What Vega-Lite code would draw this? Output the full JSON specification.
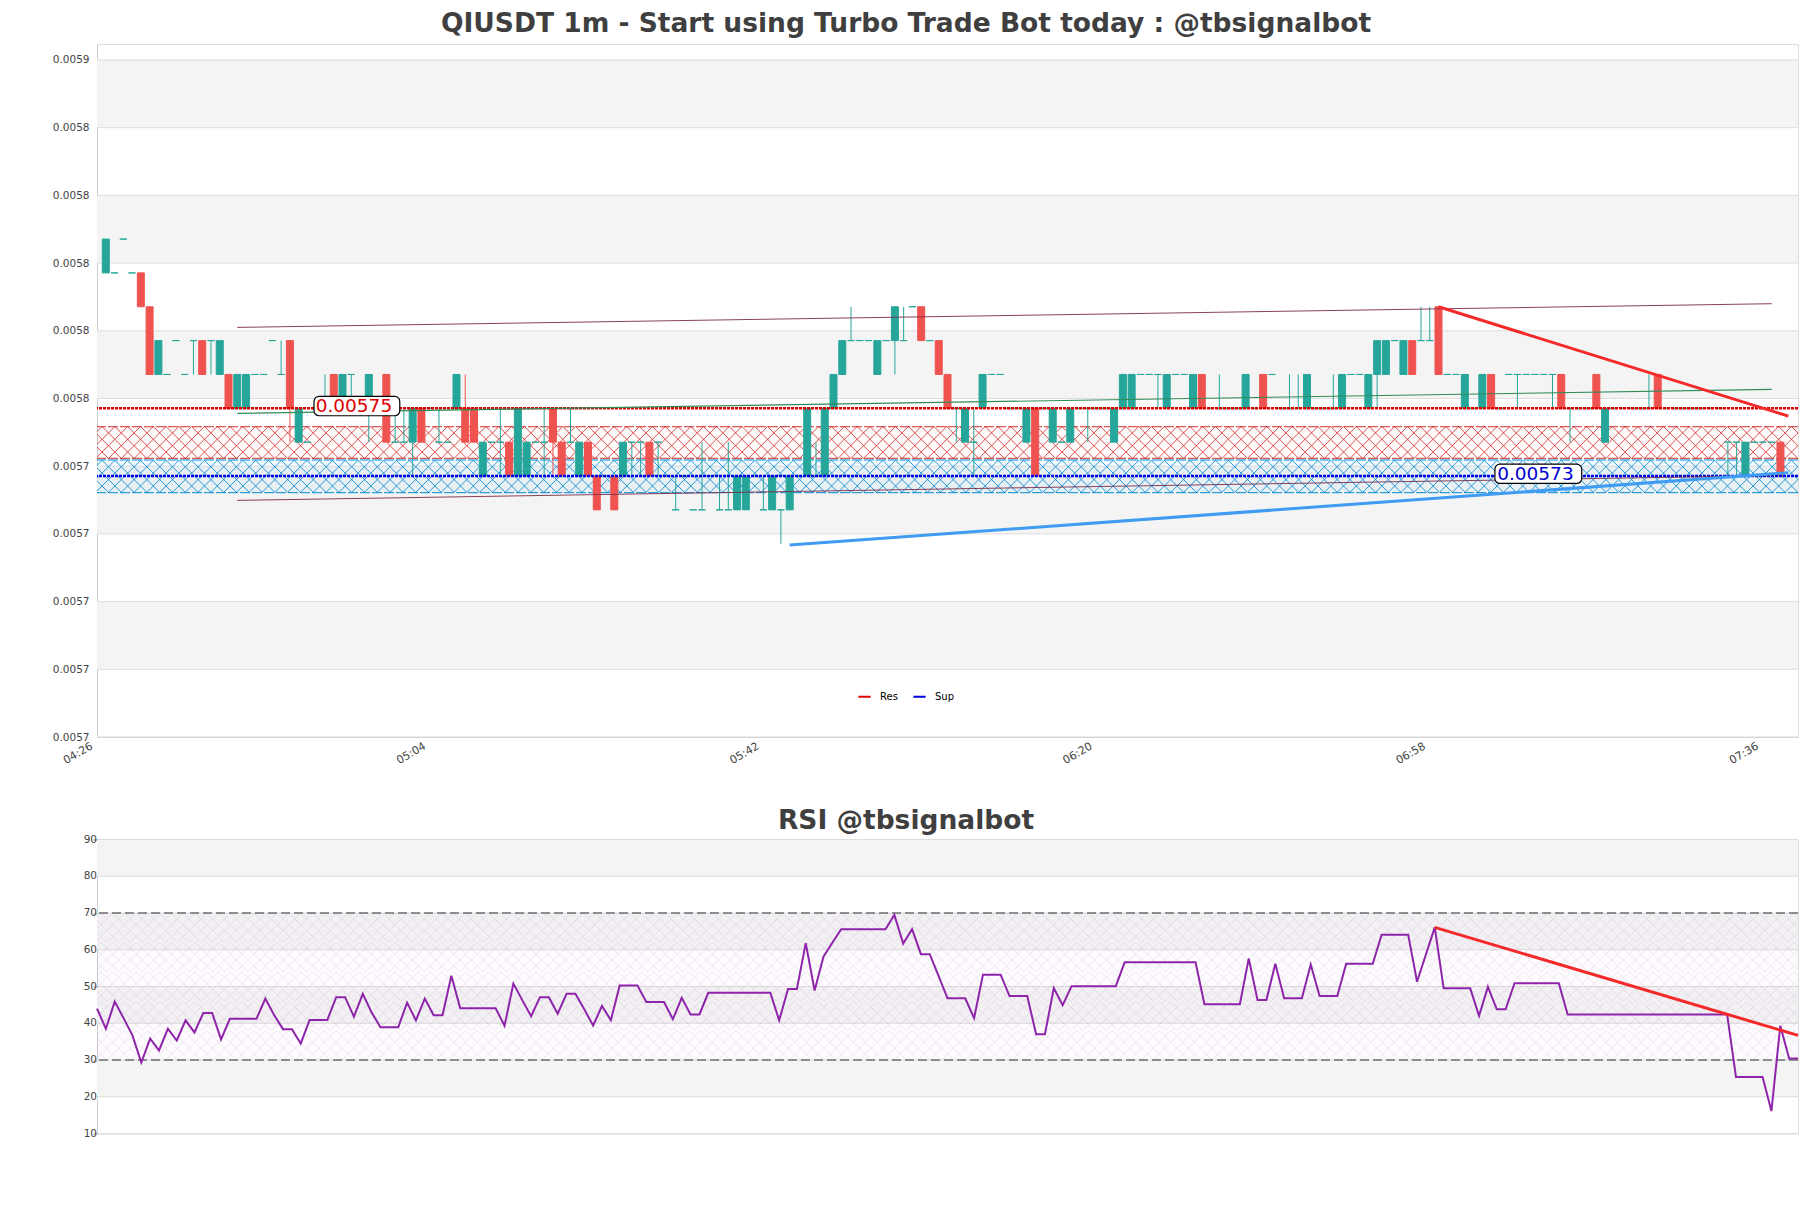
{"$schema":"https://vega.github.io/schema/vega-lite/v6.json","background":"white","padding":{"left":0,"top":10,"right":0,"bottom":0},"spacing":41.5,"config":{"view":{"stroke":"#dddddd"},"font":"DejaVu Sans","title":{"font":"DejaVu Sans","fontSize":26.5,"fontWeight":"bold","color":"#3f3f3f","anchor":"middle","dx":-41.5,"offset":7},"axis":{"labelFont":"DejaVu Sans","labelFontSize":10.5,"labelColor":"#444444","domainColor":"#cccccc","grid":false,"title":null}},
"vconcat":[
{"title":"QIUSDT 1m - Start using Turbo Trade Bot today : @tbsignalbot","width":1701,"height":693,
"layer":[
{"data":{"values":[{"lo":0.0058329,"hi":0.0058529},{"lo":0.0057929,"hi":0.0058129},{"lo":0.0057529,"hi":0.0057729},{"lo":0.0057129,"hi":0.0057329},{"lo":0.0056729,"hi":0.0056929}]},"mark":{"type":"rect","color":"#f4f4f4"},"encoding":{"y":{"field":"lo","type":"quantitative","title":null,"scale":{"domain":[0.0056529,0.00585762],"nice":false,"zero":false},"axis":{"title":null,"values":[0.0056529,0.0056729,0.0056929,0.0057129,0.0057329,0.0057529,0.0057729,0.0057929,0.0058129,0.0058329,0.0058529],"format":".4f","ticks":false,"labelPadding":8,"labelOverlap":false,"minExtent":96,"maxExtent":96}},"y2":{"field":"hi"}}},
{"data":{"values":[{"p":0.0056529},{"p":0.0056729},{"p":0.0056929},{"p":0.0057129},{"p":0.0057329},{"p":0.0057529},{"p":0.0057729},{"p":0.0057929},{"p":0.0058129},{"p":0.0058329},{"p":0.0058529}]},"mark":{"type":"rule","color":"#dddddd","strokeWidth":1},"encoding":{"y":{"field":"p","type":"quantitative","title":null}}},
{"data":{"values":[{"zone":"Res","t":"1900-01-01T06:02:55","lo":0.00573523,"hi":0.00574456,"mid":0.0057399},{"zone":"Sup","t":"1900-01-01T06:02:55","lo":0.00572507,"hi":0.00573473,"mid":0.0057299}]},
"layer":[
{"mark":{"type":"rect","opacity":0.05},"encoding":{"y":{"field":"lo","type":"quantitative","title":null},"y2":{"field":"hi"},"color":{"condition":{"test":"datum.zone=='Res'","value":"#ffb0b0"},"value":"#29b6f6"}}},
{"mark":{"type":"point","clip":true,"filled":false,"size":4.55,"strokeWidth":0.85,"opacity":1,"shape":"M-960-15l30 30l30-30l30 30l30-30l30 30l30-30l30 30l30-30l30 30l30-30l30 30l30-30l30 30l30-30l30 30l30-30l30 30l30-30l30 30l30-30l30 30l30-30l30 30l30-30l30 30l30-30l30 30l30-30l30 30l30-30l30 30l30-30l30 30l30-30l30 30l30-30l30 30l30-30l30 30l30-30l30 30l30-30l30 30l30-30l30 30l30-30l30 30l30-30l30 30l30-30l30 30l30-30l30 30l30-30l30 30l30-30l30 30l30-30l30 30l30-30l30 30l30-30M-948-15l30 30l30-30l30 30l30-30l30 30l30-30l30 30l30-30l30 30l30-30l30 30l30-30l30 30l30-30l30 30l30-30l30 30l30-30l30 30l30-30l30 30l30-30l30 30l30-30l30 30l30-30l30 30l30-30l30 30l30-30l30 30l30-30l30 30l30-30l30 30l30-30l30 30l30-30l30 30l30-30l30 30l30-30l30 30l30-30l30 30l30-30l30 30l30-30l30 30l30-30l30 30l30-30l30 30l30-30l30 30l30-30l30 30l30-30l30 30l30-30l30 30l30-30l30 30l30-30M-936-15l30 30l30-30l30 30l30-30l30 30l30-30l30 30l30-30l30 30l30-30l30 30l30-30l30 30l30-30l30 30l30-30l30 30l30-30l30 30l30-30l30 30l30-30l30 30l30-30l30 30l30-30l30 30l30-30l30 30l30-30l30 30l30-30l30 30l30-30l30 30l30-30l30 30l30-30l30 30l30-30l30 30l30-30l30 30l30-30l30 30l30-30l30 30l30-30l30 30l30-30l30 30l30-30l30 30l30-30l30 30l30-30l30 30l30-30l30 30l30-30l30 30l30-30l30 30l30-30M-924-15l30 30l30-30l30 30l30-30l30 30l30-30l30 30l30-30l30 30l30-30l30 30l30-30l30 30l30-30l30 30l30-30l30 30l30-30l30 30l30-30l30 30l30-30l30 30l30-30l30 30l30-30l30 30l30-30l30 30l30-30l30 30l30-30l30 30l30-30l30 30l30-30l30 30l30-30l30 30l30-30l30 30l30-30l30 30l30-30l30 30l30-30l30 30l30-30l30 30l30-30l30 30l30-30l30 30l30-30l30 30l30-30l30 30l30-30l30 30l30-30l30 30l30-30l30 30l30-30M-912-15l30 30l30-30l30 30l30-30l30 30l30-30l30 30l30-30l30 30l30-30l30 30l30-30l30 30l30-30l30 30l30-30l30 30l30-30l30 30l30-30l30 30l30-30l30 30l30-30l30 30l30-30l30 30l30-30l30 30l30-30l30 30l30-30l30 30l30-30l30 30l30-30l30 30l30-30l30 30l30-30l30 30l30-30l30 30l30-30l30 30l30-30l30 30l30-30l30 30l30-30l30 30l30-30l30 30l30-30l30 30l30-30l30 30l30-30l30 30l30-30l30 30l30-30"},"encoding":{"x":{"field":"t","type":"temporal","title":null,"scale":{"domain":["1900-01-01T04:26:00","1900-01-01T07:40:00"],"nice":false,"padding":0},"axis":{"title":null,"values":["1900-01-01T04:26:00","1900-01-01T05:04:00","1900-01-01T05:42:00","1900-01-01T06:20:00","1900-01-01T06:58:00","1900-01-01T07:36:00"],"format":"%H:%M","labelAngle":-30,"labelAlign":"right","labelBaseline":"top","ticks":false,"labelPadding":3,"labelOffset":-8.5,"labelFontSize":11,"labelBound":false,"labelFlush":false}},"y":{"field":"mid","type":"quantitative","title":null},"stroke":{"condition":{"test":"datum.zone=='Res'","value":"#d32f2f"},"value":"#0288d1"}}},
{"mark":{"type":"rule","strokeWidth":1,"strokeDash":[10,2]},"encoding":{"y":{"field":"hi","type":"quantitative","title":null},"stroke":{"condition":{"test":"datum.zone=='Res'","value":"#d32f2f"},"value":"#0288d1"}}},
{"mark":{"type":"rule","strokeWidth":1,"strokeDash":[10,2]},"encoding":{"y":{"field":"lo","type":"quantitative","title":null},"stroke":{"condition":{"test":"datum.zone=='Res'","value":"#d32f2f"},"value":"#0288d1"}}}
]},
{"data":{"values":[{"t":"04:27","o":0.00579,"c":0.0058,"h":0.0058,"l":0.00579},{"t":"04:28","o":0.00579,"c":0.00579,"h":0.00579,"l":0.00579},{"t":"04:29","o":0.0058,"c":0.0058,"h":0.0058,"l":0.0058},{"t":"04:30","o":0.00579,"c":0.00579,"h":0.00579,"l":0.00579},{"t":"04:31","o":0.00579,"c":0.00578,"h":0.00579,"l":0.00578},{"t":"04:32","o":0.00578,"c":0.00576,"h":0.00578,"l":0.00576},{"t":"04:33","o":0.00576,"c":0.00577,"h":0.00577,"l":0.00576},{"t":"04:34","o":0.00576,"c":0.00576,"h":0.00576,"l":0.00576},{"t":"04:35","o":0.00577,"c":0.00577,"h":0.00577,"l":0.00577},{"t":"04:36","o":0.00576,"c":0.00576,"h":0.00576,"l":0.00576},{"t":"04:37","o":0.00577,"c":0.00577,"h":0.00577,"l":0.00576},{"t":"04:38","o":0.00577,"c":0.00576,"h":0.00577,"l":0.00576},{"t":"04:39","o":0.00577,"c":0.00577,"h":0.00577,"l":0.00576},{"t":"04:40","o":0.00576,"c":0.00577,"h":0.00577,"l":0.00576},{"t":"04:41","o":0.00576,"c":0.00575,"h":0.00576,"l":0.00575},{"t":"04:42","o":0.00575,"c":0.00576,"h":0.00576,"l":0.00575},{"t":"04:43","o":0.00575,"c":0.00576,"h":0.00576,"l":0.00575},{"t":"04:44","o":0.00576,"c":0.00576,"h":0.00576,"l":0.00576},{"t":"04:45","o":0.00576,"c":0.00576,"h":0.00576,"l":0.00576},{"t":"04:46","o":0.00577,"c":0.00577,"h":0.00577,"l":0.00577},{"t":"04:47","o":0.00576,"c":0.00576,"h":0.00577,"l":0.00576},{"t":"04:48","o":0.00577,"c":0.00575,"h":0.00577,"l":0.00574},{"t":"04:49","o":0.00574,"c":0.00575,"h":0.00575,"l":0.00574},{"t":"04:50","o":0.00574,"c":0.00574,"h":0.00574,"l":0.00574},{"t":"04:51","o":0.00575,"c":0.00575,"h":0.00575,"l":0.00575},{"t":"04:52","o":0.00575,"c":0.00575,"h":0.00576,"l":0.00575},{"t":"04:53","o":0.00576,"c":0.00575,"h":0.00576,"l":0.00575},{"t":"04:54","o":0.00575,"c":0.00576,"h":0.00576,"l":0.00575},{"t":"04:55","o":0.00576,"c":0.00576,"h":0.00576,"l":0.00575},{"t":"04:56","o":0.00575,"c":0.00575,"h":0.00575,"l":0.00575},{"t":"04:57","o":0.00575,"c":0.00576,"h":0.00576,"l":0.00574},{"t":"04:58","o":0.00575,"c":0.00575,"h":0.00575,"l":0.00575},{"t":"04:59","o":0.00576,"c":0.00574,"h":0.00576,"l":0.00574},{"t":"05:00","o":0.00574,"c":0.00574,"h":0.00575,"l":0.00574},{"t":"05:01","o":0.00574,"c":0.00574,"h":0.00575,"l":0.00574},{"t":"05:02","o":0.00574,"c":0.00575,"h":0.00575,"l":0.00573},{"t":"05:03","o":0.00575,"c":0.00574,"h":0.00575,"l":0.00574},{"t":"05:04","o":0.00575,"c":0.00575,"h":0.00575,"l":0.00575},{"t":"05:05","o":0.00574,"c":0.00574,"h":0.00575,"l":0.00574},{"t":"05:06","o":0.00574,"c":0.00574,"h":0.00574,"l":0.00574},{"t":"05:07","o":0.00575,"c":0.00576,"h":0.00576,"l":0.00575},{"t":"05:08","o":0.00575,"c":0.00574,"h":0.00576,"l":0.00574},{"t":"05:09","o":0.00575,"c":0.00574,"h":0.00575,"l":0.00574},{"t":"05:10","o":0.00573,"c":0.00574,"h":0.00574,"l":0.00573},{"t":"05:11","o":0.00574,"c":0.00574,"h":0.00574,"l":0.00574},{"t":"05:12","o":0.00574,"c":0.00574,"h":0.00575,"l":0.00573},{"t":"05:13","o":0.00574,"c":0.00573,"h":0.00574,"l":0.00573},{"t":"05:14","o":0.00573,"c":0.00575,"h":0.00575,"l":0.00573},{"t":"05:15","o":0.00573,"c":0.00574,"h":0.00574,"l":0.00573},{"t":"05:16","o":0.00574,"c":0.00574,"h":0.00574,"l":0.00574},{"t":"05:17","o":0.00574,"c":0.00574,"h":0.00575,"l":0.00573},{"t":"05:18","o":0.00575,"c":0.00574,"h":0.00575,"l":0.00573},{"t":"05:19","o":0.00574,"c":0.00573,"h":0.00574,"l":0.00573},{"t":"05:20","o":0.00574,"c":0.00574,"h":0.00575,"l":0.00574},{"t":"05:21","o":0.00573,"c":0.00574,"h":0.00574,"l":0.00573},{"t":"05:22","o":0.00574,"c":0.00573,"h":0.00574,"l":0.00573},{"t":"05:23","o":0.00573,"c":0.00572,"h":0.00573,"l":0.00572},{"t":"05:24","o":0.00573,"c":0.00573,"h":0.00573,"l":0.00573},{"t":"05:25","o":0.00573,"c":0.00572,"h":0.00573,"l":0.00572},{"t":"05:26","o":0.00573,"c":0.00574,"h":0.00574,"l":0.00573},{"t":"05:27","o":0.00574,"c":0.00574,"h":0.00574,"l":0.00573},{"t":"05:28","o":0.00574,"c":0.00574,"h":0.00574,"l":0.00573},{"t":"05:29","o":0.00574,"c":0.00573,"h":0.00574,"l":0.00573},{"t":"05:30","o":0.00574,"c":0.00574,"h":0.00574,"l":0.00573},{"t":"05:31","o":0.00573,"c":0.00573,"h":0.00573,"l":0.00573},{"t":"05:32","o":0.00572,"c":0.00572,"h":0.00573,"l":0.00572},{"t":"05:33","o":0.00573,"c":0.00573,"h":0.00573,"l":0.00573},{"t":"05:34","o":0.00572,"c":0.00572,"h":0.00572,"l":0.00572},{"t":"05:35","o":0.00572,"c":0.00572,"h":0.00574,"l":0.00572},{"t":"05:36","o":0.00573,"c":0.00573,"h":0.00573,"l":0.00573},{"t":"05:37","o":0.00572,"c":0.00572,"h":0.00573,"l":0.00572},{"t":"05:38","o":0.00572,"c":0.00572,"h":0.00574,"l":0.00572},{"t":"05:39","o":0.00572,"c":0.00573,"h":0.00573,"l":0.00572},{"t":"05:40","o":0.00572,"c":0.00573,"h":0.00573,"l":0.00572},{"t":"05:41","o":0.00573,"c":0.00573,"h":0.00573,"l":0.00573},{"t":"05:42","o":0.00572,"c":0.00572,"h":0.00573,"l":0.00572},{"t":"05:43","o":0.00572,"c":0.00573,"h":0.00573,"l":0.00572},{"t":"05:44","o":0.00572,"c":0.00572,"h":0.00572,"l":0.00571},{"t":"05:45","o":0.00572,"c":0.00573,"h":0.00573,"l":0.00572},{"t":"05:46","o":0.00573,"c":0.00573,"h":0.00573,"l":0.00573},{"t":"05:47","o":0.00573,"c":0.00575,"h":0.00575,"l":0.00573},{"t":"05:48","o":0.00573,"c":0.00573,"h":0.00574,"l":0.00573},{"t":"05:49","o":0.00573,"c":0.00575,"h":0.00575,"l":0.00573},{"t":"05:50","o":0.00575,"c":0.00576,"h":0.00576,"l":0.00575},{"t":"05:51","o":0.00576,"c":0.00577,"h":0.00577,"l":0.00576},{"t":"05:52","o":0.00577,"c":0.00577,"h":0.00578,"l":0.00577},{"t":"05:53","o":0.00577,"c":0.00577,"h":0.00577,"l":0.00577},{"t":"05:54","o":0.00577,"c":0.00577,"h":0.00577,"l":0.00577},{"t":"05:55","o":0.00576,"c":0.00577,"h":0.00577,"l":0.00576},{"t":"05:56","o":0.00577,"c":0.00577,"h":0.00577,"l":0.00577},{"t":"05:57","o":0.00577,"c":0.00578,"h":0.00578,"l":0.00576},{"t":"05:58","o":0.00577,"c":0.00577,"h":0.00578,"l":0.00577},{"t":"05:59","o":0.00578,"c":0.00578,"h":0.00578,"l":0.00578},{"t":"06:00","o":0.00578,"c":0.00577,"h":0.00578,"l":0.00577},{"t":"06:01","o":0.00577,"c":0.00577,"h":0.00577,"l":0.00577},{"t":"06:02","o":0.00577,"c":0.00576,"h":0.00577,"l":0.00576},{"t":"06:03","o":0.00576,"c":0.00575,"h":0.00576,"l":0.00575},{"t":"06:04","o":0.00575,"c":0.00575,"h":0.00575,"l":0.00574},{"t":"06:05","o":0.00574,"c":0.00575,"h":0.00575,"l":0.00574},{"t":"06:06","o":0.00574,"c":0.00574,"h":0.00575,"l":0.00573},{"t":"06:07","o":0.00575,"c":0.00576,"h":0.00576,"l":0.00575},{"t":"06:08","o":0.00576,"c":0.00576,"h":0.00576,"l":0.00576},{"t":"06:09","o":0.00576,"c":0.00576,"h":0.00576,"l":0.00576},{"t":"06:10","o":0.00575,"c":0.00575,"h":0.00575,"l":0.00575},{"t":"06:11","o":0.00575,"c":0.00575,"h":0.00575,"l":0.00575},{"t":"06:12","o":0.00574,"c":0.00575,"h":0.00575,"l":0.00574},{"t":"06:13","o":0.00575,"c":0.00573,"h":0.00575,"l":0.00573},{"t":"06:14","o":0.00575,"c":0.00575,"h":0.00575,"l":0.00575},{"t":"06:15","o":0.00574,"c":0.00575,"h":0.00575,"l":0.00574},{"t":"06:16","o":0.00574,"c":0.00574,"h":0.00574,"l":0.00574},{"t":"06:17","o":0.00574,"c":0.00575,"h":0.00575,"l":0.00574},{"t":"06:18","o":0.00575,"c":0.00575,"h":0.00575,"l":0.00575},{"t":"06:19","o":0.00575,"c":0.00575,"h":0.00575,"l":0.00574},{"t":"06:20","o":0.00575,"c":0.00575,"h":0.00575,"l":0.00575},{"t":"06:21","o":0.00575,"c":0.00575,"h":0.00575,"l":0.00575},{"t":"06:22","o":0.00574,"c":0.00575,"h":0.00575,"l":0.00574},{"t":"06:23","o":0.00575,"c":0.00576,"h":0.00576,"l":0.00575},{"t":"06:24","o":0.00575,"c":0.00576,"h":0.00576,"l":0.00575},{"t":"06:25","o":0.00576,"c":0.00576,"h":0.00576,"l":0.00576},{"t":"06:26","o":0.00576,"c":0.00576,"h":0.00576,"l":0.00576},{"t":"06:27","o":0.00576,"c":0.00576,"h":0.00576,"l":0.00575},{"t":"06:28","o":0.00575,"c":0.00576,"h":0.00576,"l":0.00575},{"t":"06:29","o":0.00576,"c":0.00576,"h":0.00576,"l":0.00576},{"t":"06:30","o":0.00576,"c":0.00576,"h":0.00576,"l":0.00576},{"t":"06:31","o":0.00575,"c":0.00576,"h":0.00576,"l":0.00575},{"t":"06:32","o":0.00576,"c":0.00575,"h":0.00576,"l":0.00575},{"t":"06:33","o":0.00575,"c":0.00575,"h":0.00575,"l":0.00575},{"t":"06:34","o":0.00575,"c":0.00575,"h":0.00576,"l":0.00575},{"t":"06:35","o":0.00575,"c":0.00575,"h":0.00575,"l":0.00575},{"t":"06:36","o":0.00575,"c":0.00575,"h":0.00575,"l":0.00575},{"t":"06:37","o":0.00575,"c":0.00576,"h":0.00576,"l":0.00575},{"t":"06:38","o":0.00575,"c":0.00575,"h":0.00575,"l":0.00575},{"t":"06:39","o":0.00576,"c":0.00575,"h":0.00576,"l":0.00575},{"t":"06:40","o":0.00576,"c":0.00576,"h":0.00576,"l":0.00576},{"t":"06:41","o":0.00575,"c":0.00575,"h":0.00575,"l":0.00575},{"t":"06:42","o":0.00575,"c":0.00575,"h":0.00576,"l":0.00575},{"t":"06:43","o":0.00575,"c":0.00575,"h":0.00576,"l":0.00575},{"t":"06:44","o":0.00575,"c":0.00576,"h":0.00576,"l":0.00575},{"t":"06:45","o":0.00575,"c":0.00575,"h":0.00575,"l":0.00575},{"t":"06:46","o":0.00575,"c":0.00575,"h":0.00575,"l":0.00575},{"t":"06:47","o":0.00575,"c":0.00575,"h":0.00576,"l":0.00575},{"t":"06:48","o":0.00575,"c":0.00576,"h":0.00576,"l":0.00575},{"t":"06:49","o":0.00576,"c":0.00576,"h":0.00576,"l":0.00576},{"t":"06:50","o":0.00576,"c":0.00576,"h":0.00576,"l":0.00576},{"t":"06:51","o":0.00575,"c":0.00576,"h":0.00576,"l":0.00575},{"t":"06:52","o":0.00576,"c":0.00577,"h":0.00577,"l":0.00575},{"t":"06:53","o":0.00576,"c":0.00577,"h":0.00577,"l":0.00576},{"t":"06:54","o":0.00577,"c":0.00577,"h":0.00577,"l":0.00577},{"t":"06:55","o":0.00576,"c":0.00577,"h":0.00577,"l":0.00576},{"t":"06:56","o":0.00577,"c":0.00576,"h":0.00577,"l":0.00576},{"t":"06:57","o":0.00577,"c":0.00577,"h":0.00578,"l":0.00577},{"t":"06:58","o":0.00577,"c":0.00577,"h":0.00578,"l":0.00577},{"t":"06:59","o":0.00578,"c":0.00576,"h":0.00578,"l":0.00576},{"t":"07:00","o":0.00576,"c":0.00576,"h":0.00576,"l":0.00576},{"t":"07:01","o":0.00576,"c":0.00576,"h":0.00576,"l":0.00576},{"t":"07:02","o":0.00575,"c":0.00576,"h":0.00576,"l":0.00575},{"t":"07:03","o":0.00575,"c":0.00575,"h":0.00575,"l":0.00575},{"t":"07:04","o":0.00575,"c":0.00576,"h":0.00576,"l":0.00575},{"t":"07:05","o":0.00576,"c":0.00575,"h":0.00576,"l":0.00575},{"t":"07:06","o":0.00575,"c":0.00575,"h":0.00575,"l":0.00575},{"t":"07:07","o":0.00576,"c":0.00576,"h":0.00576,"l":0.00576},{"t":"07:08","o":0.00576,"c":0.00576,"h":0.00576,"l":0.00575},{"t":"07:09","o":0.00576,"c":0.00576,"h":0.00576,"l":0.00576},{"t":"07:10","o":0.00576,"c":0.00576,"h":0.00576,"l":0.00576},{"t":"07:11","o":0.00576,"c":0.00576,"h":0.00576,"l":0.00576},{"t":"07:12","o":0.00576,"c":0.00576,"h":0.00576,"l":0.00575},{"t":"07:13","o":0.00576,"c":0.00575,"h":0.00576,"l":0.00575},{"t":"07:14","o":0.00575,"c":0.00575,"h":0.00575,"l":0.00574},{"t":"07:15","o":0.00575,"c":0.00575,"h":0.00575,"l":0.00575},{"t":"07:16","o":0.00575,"c":0.00575,"h":0.00575,"l":0.00575},{"t":"07:17","o":0.00576,"c":0.00575,"h":0.00576,"l":0.00575},{"t":"07:18","o":0.00574,"c":0.00575,"h":0.00575,"l":0.00574},{"t":"07:19","o":0.00575,"c":0.00575,"h":0.00575,"l":0.00575},{"t":"07:20","o":0.00575,"c":0.00575,"h":0.00575,"l":0.00575},{"t":"07:21","o":0.00575,"c":0.00575,"h":0.00575,"l":0.00575},{"t":"07:22","o":0.00575,"c":0.00575,"h":0.00575,"l":0.00575},{"t":"07:23","o":0.00575,"c":0.00575,"h":0.00576,"l":0.00575},{"t":"07:24","o":0.00576,"c":0.00575,"h":0.00576,"l":0.00575},{"t":"07:25","o":0.00575,"c":0.00575,"h":0.00575,"l":0.00575},{"t":"07:26","o":0.00575,"c":0.00575,"h":0.00575,"l":0.00575},{"t":"07:27","o":0.00575,"c":0.00575,"h":0.00575,"l":0.00575},{"t":"07:28","o":0.00575,"c":0.00575,"h":0.00575,"l":0.00575},{"t":"07:29","o":0.00575,"c":0.00575,"h":0.00575,"l":0.00575},{"t":"07:30","o":0.00575,"c":0.00575,"h":0.00575,"l":0.00575},{"t":"07:31","o":0.00575,"c":0.00575,"h":0.00575,"l":0.00575},{"t":"07:32","o":0.00574,"c":0.00574,"h":0.00574,"l":0.00573},{"t":"07:33","o":0.00574,"c":0.00574,"h":0.00574,"l":0.00573},{"t":"07:34","o":0.00573,"c":0.00574,"h":0.00574,"l":0.00573},{"t":"07:35","o":0.00574,"c":0.00574,"h":0.00574,"l":0.00574},{"t":"07:36","o":0.00574,"c":0.00574,"h":0.00574,"l":0.00574},{"t":"07:37","o":0.00574,"c":0.00574,"h":0.00574,"l":0.00574},{"t":"07:38","o":0.00574,"c":0.00573,"h":0.00574,"l":0.00573}],"format":{"parse":{"t":"date:'%H:%M'"}}},
"layer":[
{"mark":{"type":"rule","strokeWidth":1},"encoding":{"x":{"field":"t","type":"temporal","title":null},"y":{"field":"h","type":"quantitative","title":null},"y2":{"field":"l"},"stroke":{"condition":{"test":"datum.c<datum.o","value":"#ef5350"},"value":"#26a69a"}}},
{"mark":{"type":"bar","width":7,"strokeWidth":1},"encoding":{"x":{"field":"t","type":"temporal","title":null},"y":{"field":"o","type":"quantitative","title":null},"y2":{"field":"c"},"fill":{"condition":{"test":"datum.c<datum.o","value":"#ef5350"},"value":"#26a69a"},"stroke":{"condition":{"test":"datum.c<datum.o","value":"#ef5350"},"value":"#26a69a"}}}
]},
{"data":{"values":[{"level":"Res","p":0.00575},{"level":"Sup","p":0.00573}]},"mark":{"type":"rule","strokeWidth":2.4,"strokeDash":[3,1]},"encoding":{"y":{"field":"p","type":"quantitative","title":null},"color":{"field":"level","type":"nominal","scale":{"domain":["Res","Sup"],"range":["#e00000","#0000e0"]},"legend":{"title":null,"orient":"none","direction":"horizontal","legendX":760,"legendY":645,"symbolType":"stroke","symbolSize":150,"symbolStrokeWidth":2.2,"symbolDash":[1,0],"labelFontSize":10,"labelColor":"#000000","columnPadding":10,"labelOffset":8}}}},
{"data":{"values":[{"line":"upper","t":"1900-01-01T04:42:00","p":0.0057739},{"line":"upper","t":"1900-01-01T07:37:00","p":0.0057809},{"line":"lower","t":"1900-01-01T04:42:00","p":0.0057228},{"line":"lower","t":"1900-01-01T07:37:00","p":0.0057301}]},"mark":{"type":"line","color":"#7b2d4a","strokeWidth":1,"opacity":0.9},"encoding":{"x":{"field":"t","type":"temporal","title":null},"y":{"field":"p","type":"quantitative","title":null},"detail":{"field":"line"}}},
{"data":{"values":[{"t":"1900-01-01T04:42:00","p":0.0057485},{"t":"1900-01-01T07:37:00","p":0.0057556}]},"mark":{"type":"line","color":"#2e8b57","strokeWidth":1.1},"encoding":{"x":{"field":"t","type":"temporal","title":null},"y":{"field":"p","type":"quantitative","title":null}}},
{"data":{"values":[{"t":"1900-01-01T06:59:00","p":0.00578},{"t":"1900-01-01T07:38:54","p":0.0057477}]},"mark":{"type":"line","color":"#f42a2a","strokeWidth":3},"encoding":{"x":{"field":"t","type":"temporal","title":null},"y":{"field":"p","type":"quantitative","title":null}}},
{"data":{"values":[{"t":"1900-01-01T05:45:00","p":0.0057096},{"t":"1900-01-01T07:38:54","p":0.00573097}]},"mark":{"type":"line","color":"#3f9cf2","strokeWidth":3},"encoding":{"x":{"field":"t","type":"temporal","title":null},"y":{"field":"p","type":"quantitative","title":null}}},
{"data":{"values":[{"label":"0.00575","t1":"1900-01-01T04:50:45","t2":"1900-01-01T05:00:32","tc":"1900-01-01T04:55:18","lo":0.0057478,"hi":0.0057535,"p":0.0057507},{"label":"0.00573","t1":"1900-01-01T07:05:26","t2":"1900-01-01T07:15:20","tc":"1900-01-01T07:10:03","lo":0.0057278,"hi":0.0057335,"p":0.0057307}]},
"layer":[
{"mark":{"type":"rect","fill":"white","stroke":"black","strokeWidth":1.2,"cornerRadius":5},"encoding":{"x":{"field":"t1","type":"temporal","title":null},"x2":{"field":"t2"},"y":{"field":"lo","type":"quantitative","title":null},"y2":{"field":"hi"}}},
{"mark":{"type":"text","fontSize":18.5,"font":"DejaVu Sans","baseline":"middle"},"encoding":{"x":{"field":"tc","type":"temporal","title":null},"y":{"field":"p","type":"quantitative","title":null},"text":{"field":"label"},"color":{"condition":{"test":"datum.label=='0.00575'","value":"#e00000"},"value":"#0000d0"}}}
]}
]},
{"title":{"text":"RSI @tbsignalbot","offset":0},"width":1701,"height":294,
"layer":[
{"data":{"values":[{"lo":80,"hi":90},{"lo":60,"hi":70},{"lo":40,"hi":50},{"lo":20,"hi":30}]},"mark":{"type":"rect","color":"#f4f4f4"},"encoding":{"y":{"field":"lo","type":"quantitative","title":null,"scale":{"domain":[10,90],"nice":false,"zero":false},"axis":{"title":null,"values":[10,15,20,25,30,35,40,45,50,55,60,65,70,75,80,85,90],"labels":false,"tickSize":4,"tickColor":"#888888","minExtent":96,"maxExtent":96}},"y2":{"field":"hi"}}},
{"data":{"values":[{"v":10},{"v":20},{"v":30},{"v":40},{"v":50},{"v":60},{"v":70},{"v":80},{"v":90}]},"mark":{"type":"rule","color":"#dddddd","strokeWidth":1},"encoding":{"y":{"field":"v","type":"quantitative","title":null}}},
{"data":{"values":[{"v":10},{"v":20},{"v":30},{"v":40},{"v":50},{"v":60},{"v":70},{"v":80},{"v":90}]},"mark":{"type":"text","align":"right","baseline":"middle","xOffset":-8,"fontSize":10.5,"font":"DejaVu Sans","color":"#444444"},"encoding":{"x":{"datum":"1900-01-01T04:26:00","type":"temporal","axis":null},"y":{"field":"v","type":"quantitative","title":null},"text":{"field":"v"}}},
{"data":{"values":[{"lo":30,"hi":70}]},"mark":{"type":"rect","color":"#9c27b0","opacity":0.02},"encoding":{"y":{"field":"lo","type":"quantitative","title":null},"y2":{"field":"hi"}}},
{"data":{"values":[{"t":"1900-01-01T06:02:00","v":34},{"t":"1900-01-01T06:02:00","v":42},{"t":"1900-01-01T06:02:00","v":50},{"t":"1900-01-01T06:02:00","v":58},{"t":"1900-01-01T06:02:00","v":66}]},"mark":{"type":"point","clip":true,"filled":false,"size":3.84,"strokeWidth":0.5,"opacity":0.22,"stroke":"#7b4b94","shape":"M-960-15l30 30l30-30l30 30l30-30l30 30l30-30l30 30l30-30l30 30l30-30l30 30l30-30l30 30l30-30l30 30l30-30l30 30l30-30l30 30l30-30l30 30l30-30l30 30l30-30l30 30l30-30l30 30l30-30l30 30l30-30l30 30l30-30l30 30l30-30l30 30l30-30l30 30l30-30l30 30l30-30l30 30l30-30l30 30l30-30l30 30l30-30l30 30l30-30l30 30l30-30l30 30l30-30l30 30l30-30l30 30l30-30l30 30l30-30l30 30l30-30l30 30l30-30M-948-15l30 30l30-30l30 30l30-30l30 30l30-30l30 30l30-30l30 30l30-30l30 30l30-30l30 30l30-30l30 30l30-30l30 30l30-30l30 30l30-30l30 30l30-30l30 30l30-30l30 30l30-30l30 30l30-30l30 30l30-30l30 30l30-30l30 30l30-30l30 30l30-30l30 30l30-30l30 30l30-30l30 30l30-30l30 30l30-30l30 30l30-30l30 30l30-30l30 30l30-30l30 30l30-30l30 30l30-30l30 30l30-30l30 30l30-30l30 30l30-30l30 30l30-30l30 30l30-30M-936-15l30 30l30-30l30 30l30-30l30 30l30-30l30 30l30-30l30 30l30-30l30 30l30-30l30 30l30-30l30 30l30-30l30 30l30-30l30 30l30-30l30 30l30-30l30 30l30-30l30 30l30-30l30 30l30-30l30 30l30-30l30 30l30-30l30 30l30-30l30 30l30-30l30 30l30-30l30 30l30-30l30 30l30-30l30 30l30-30l30 30l30-30l30 30l30-30l30 30l30-30l30 30l30-30l30 30l30-30l30 30l30-30l30 30l30-30l30 30l30-30l30 30l30-30l30 30l30-30M-924-15l30 30l30-30l30 30l30-30l30 30l30-30l30 30l30-30l30 30l30-30l30 30l30-30l30 30l30-30l30 30l30-30l30 30l30-30l30 30l30-30l30 30l30-30l30 30l30-30l30 30l30-30l30 30l30-30l30 30l30-30l30 30l30-30l30 30l30-30l30 30l30-30l30 30l30-30l30 30l30-30l30 30l30-30l30 30l30-30l30 30l30-30l30 30l30-30l30 30l30-30l30 30l30-30l30 30l30-30l30 30l30-30l30 30l30-30l30 30l30-30l30 30l30-30l30 30l30-30M-912-15l30 30l30-30l30 30l30-30l30 30l30-30l30 30l30-30l30 30l30-30l30 30l30-30l30 30l30-30l30 30l30-30l30 30l30-30l30 30l30-30l30 30l30-30l30 30l30-30l30 30l30-30l30 30l30-30l30 30l30-30l30 30l30-30l30 30l30-30l30 30l30-30l30 30l30-30l30 30l30-30l30 30l30-30l30 30l30-30l30 30l30-30l30 30l30-30l30 30l30-30l30 30l30-30l30 30l30-30l30 30l30-30l30 30l30-30l30 30l30-30l30 30l30-30l30 30l30-30"},"encoding":{"x":{"field":"t","type":"temporal","scale":{"domain":["1900-01-01T04:26:00","1900-01-01T07:38:00"],"nice":false},"axis":null},"y":{"field":"v","type":"quantitative","title":null}}},
{"data":{"values":[{"v":70},{"v":30}]},"mark":{"type":"rule","color":"#333333","strokeWidth":1.2,"strokeDash":[9,4]},"encoding":{"y":{"field":"v","type":"quantitative","title":null}}},
{"data":{"values":[{"t":"04:26","v":44},{"t":"04:27","v":38.5},{"t":"04:28","v":45.9},{"t":"04:29","v":41.4},{"t":"04:30","v":36.7},{"t":"04:31","v":29.3},{"t":"04:32","v":35.8},{"t":"04:33","v":32.6},{"t":"04:34","v":38.5},{"t":"04:35","v":35.3},{"t":"04:36","v":40.8},{"t":"04:37","v":37.5},{"t":"04:38","v":42.8},{"t":"04:39","v":42.8},{"t":"04:40","v":35.6},{"t":"04:41","v":41.2},{"t":"04:42","v":41.2},{"t":"04:43","v":41.2},{"t":"04:44","v":41.2},{"t":"04:45","v":46.7},{"t":"04:46","v":42.2},{"t":"04:47","v":38.4},{"t":"04:48","v":38.4},{"t":"04:49","v":34.5},{"t":"04:50","v":40.9},{"t":"04:51","v":40.9},{"t":"04:52","v":40.9},{"t":"04:53","v":47.1},{"t":"04:54","v":47.1},{"t":"04:55","v":41.8},{"t":"04:56","v":48},{"t":"04:57","v":42.9},{"t":"04:58","v":38.9},{"t":"04:59","v":38.9},{"t":"05:00","v":38.9},{"t":"05:01","v":45.6},{"t":"05:02","v":40.8},{"t":"05:03","v":46.7},{"t":"05:04","v":42.2},{"t":"05:05","v":42.2},{"t":"05:06","v":52.9},{"t":"05:07","v":44.1},{"t":"05:08","v":44.1},{"t":"05:09","v":44.1},{"t":"05:10","v":44.1},{"t":"05:11","v":44.1},{"t":"05:12","v":39.3},{"t":"05:13","v":50.8},{"t":"05:14","v":46.3},{"t":"05:15","v":41.9},{"t":"05:16","v":47.1},{"t":"05:17","v":47.1},{"t":"05:18","v":42.6},{"t":"05:19","v":48},{"t":"05:20","v":48},{"t":"05:21","v":43.8},{"t":"05:22","v":39.4},{"t":"05:23","v":44.7},{"t":"05:24","v":40.8},{"t":"05:25","v":50.3},{"t":"05:26","v":50.3},{"t":"05:27","v":50.3},{"t":"05:28","v":45.8},{"t":"05:29","v":45.8},{"t":"05:30","v":45.8},{"t":"05:31","v":41.1},{"t":"05:32","v":46.9},{"t":"05:33","v":42.4},{"t":"05:34","v":42.4},{"t":"05:35","v":48.3},{"t":"05:36","v":48.3},{"t":"05:37","v":48.3},{"t":"05:38","v":48.3},{"t":"05:39","v":48.3},{"t":"05:40","v":48.3},{"t":"05:41","v":48.3},{"t":"05:42","v":48.3},{"t":"05:43","v":40.8},{"t":"05:44","v":49.3},{"t":"05:45","v":49.3},{"t":"05:46","v":61.8},{"t":"05:47","v":48.9},{"t":"05:48","v":58.1},{"t":"05:49","v":61.9},{"t":"05:50","v":65.6},{"t":"05:51","v":65.6},{"t":"05:52","v":65.6},{"t":"05:53","v":65.6},{"t":"05:54","v":65.6},{"t":"05:55","v":65.6},{"t":"05:56","v":69.5},{"t":"05:57","v":61.7},{"t":"05:58","v":65.6},{"t":"05:59","v":58.8},{"t":"06:00","v":58.8},{"t":"06:01","v":52.8},{"t":"06:02","v":46.8},{"t":"06:03","v":46.8},{"t":"06:04","v":46.8},{"t":"06:05","v":41.4},{"t":"06:06","v":53.2},{"t":"06:07","v":53.2},{"t":"06:08","v":53.2},{"t":"06:09","v":47.4},{"t":"06:10","v":47.4},{"t":"06:11","v":47.4},{"t":"06:12","v":37},{"t":"06:13","v":37},{"t":"06:14","v":49.6},{"t":"06:15","v":44.9},{"t":"06:16","v":50.1},{"t":"06:17","v":50.1},{"t":"06:18","v":50.1},{"t":"06:19","v":50.1},{"t":"06:20","v":50.1},{"t":"06:21","v":50.1},{"t":"06:22","v":56.6},{"t":"06:23","v":56.6},{"t":"06:24","v":56.6},{"t":"06:25","v":56.6},{"t":"06:26","v":56.6},{"t":"06:27","v":56.6},{"t":"06:28","v":56.6},{"t":"06:29","v":56.6},{"t":"06:30","v":56.6},{"t":"06:31","v":45.2},{"t":"06:32","v":45.2},{"t":"06:33","v":45.2},{"t":"06:34","v":45.2},{"t":"06:35","v":45.2},{"t":"06:36","v":57.6},{"t":"06:37","v":46.3},{"t":"06:38","v":46.3},{"t":"06:39","v":56.2},{"t":"06:40","v":46.8},{"t":"06:41","v":46.8},{"t":"06:42","v":46.8},{"t":"06:43","v":56},{"t":"06:44","v":47.4},{"t":"06:45","v":47.4},{"t":"06:46","v":47.4},{"t":"06:47","v":56.2},{"t":"06:48","v":56.2},{"t":"06:49","v":56.2},{"t":"06:50","v":56.2},{"t":"06:51","v":64.1},{"t":"06:52","v":64.1},{"t":"06:53","v":64.1},{"t":"06:54","v":64.1},{"t":"06:55","v":51.3},{"t":"06:56","v":58.7},{"t":"06:57","v":66.1},{"t":"06:58","v":49.5},{"t":"06:59","v":49.5},{"t":"07:00","v":49.5},{"t":"07:01","v":49.5},{"t":"07:02","v":42},{"t":"07:03","v":49.9},{"t":"07:04","v":43.8},{"t":"07:05","v":43.8},{"t":"07:06","v":50.9},{"t":"07:07","v":50.9},{"t":"07:08","v":50.9},{"t":"07:09","v":50.9},{"t":"07:10","v":50.9},{"t":"07:11","v":50.9},{"t":"07:12","v":42.4},{"t":"07:13","v":42.4},{"t":"07:14","v":42.4},{"t":"07:15","v":42.4},{"t":"07:16","v":42.4},{"t":"07:17","v":42.4},{"t":"07:18","v":42.4},{"t":"07:19","v":42.4},{"t":"07:20","v":42.4},{"t":"07:21","v":42.4},{"t":"07:22","v":42.4},{"t":"07:23","v":42.4},{"t":"07:24","v":42.4},{"t":"07:25","v":42.4},{"t":"07:26","v":42.4},{"t":"07:27","v":42.4},{"t":"07:28","v":42.4},{"t":"07:29","v":42.4},{"t":"07:30","v":42.4},{"t":"07:31","v":25.4},{"t":"07:32","v":25.4},{"t":"07:33","v":25.4},{"t":"07:34","v":25.4},{"t":"07:35","v":16.1},{"t":"07:36","v":39.3},{"t":"07:37","v":30.4},{"t":"07:38","v":30.4}],"format":{"parse":{"t":"date:'%H:%M'"}}},"mark":{"type":"line","color":"#8e24aa","strokeWidth":2},"encoding":{"x":{"field":"t","type":"temporal","axis":null},"y":{"field":"v","type":"quantitative","title":null}}},
{"data":{"values":[{"t":"1900-01-01T06:57:00","v":66.1},{"t":"1900-01-01T07:38:00","v":36.7}]},"mark":{"type":"line","color":"#f42a2a","strokeWidth":3},"encoding":{"x":{"field":"t","type":"temporal","axis":null},"y":{"field":"v","type":"quantitative","title":null}}}
]}
]}
